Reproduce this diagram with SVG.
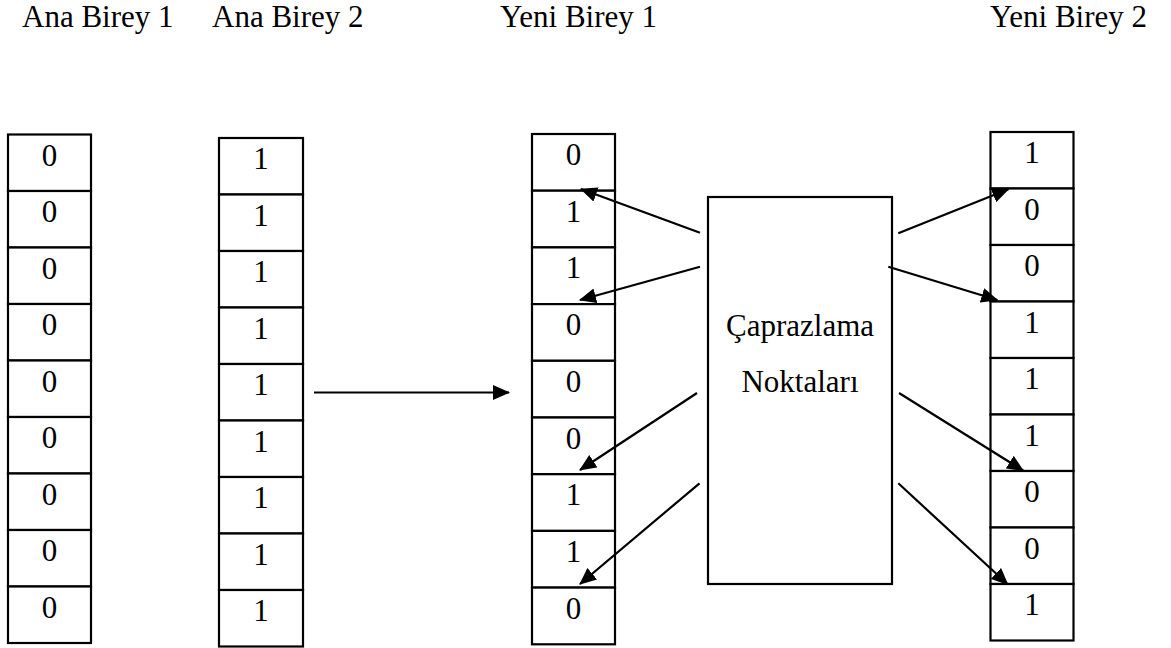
<svg xmlns="http://www.w3.org/2000/svg" width="1171" height="648" viewBox="0 0 1171 648">
  <style>
    text { font-family: "Liberation Serif", "Times New Roman", serif; font-size: 31px; fill: #000; }
    .cell { fill: #fff; stroke: #000; stroke-width: 2.2; }
    .bit { text-anchor: middle; }
    .box { fill: #fff; stroke: #000; stroke-width: 2.2; }
    .conn { fill: none; stroke: #000; stroke-width: 2.2; marker-end: url(#arrow); }
  </style>
  <defs>
    <marker id="arrow" markerUnits="userSpaceOnUse" markerWidth="17" markerHeight="15" refX="16" refY="7.5" orient="auto">
      <path d="M0,0 L17,7.5 L0,15 z" fill="#000"/>
    </marker>
  </defs>
  <rect width="1171" height="648" fill="#fff"/>

  <!-- column headings -->
  <g id="headings">
    <text x="22" y="27">Ana Birey 1</text>
    <text x="212" y="27">Ana Birey 2</text>
    <text x="500" y="27">Yeni Birey 1</text>
    <text x="990" y="27">Yeni Birey 2</text>
  </g>

  <!-- parent 1: all zeros -->
  <g id="ana-birey-1">
    <rect class="cell" x="8" y="134.5" width="83" height="56.5"/>
    <rect class="cell" x="8" y="191" width="83" height="56.5"/>
    <rect class="cell" x="8" y="247.5" width="83" height="56.5"/>
    <rect class="cell" x="8" y="304" width="83" height="56.5"/>
    <rect class="cell" x="8" y="360.5" width="83" height="56.5"/>
    <rect class="cell" x="8" y="417" width="83" height="56.5"/>
    <rect class="cell" x="8" y="473.5" width="83" height="56.5"/>
    <rect class="cell" x="8" y="530" width="83" height="56.5"/>
    <rect class="cell" x="8" y="586.5" width="83" height="56.5"/>
    <text class="bit" x="49.5" y="165.5">0</text>
    <text class="bit" x="49.5" y="222">0</text>
    <text class="bit" x="49.5" y="278.5">0</text>
    <text class="bit" x="49.5" y="335">0</text>
    <text class="bit" x="49.5" y="391.5">0</text>
    <text class="bit" x="49.5" y="448">0</text>
    <text class="bit" x="49.5" y="504.5">0</text>
    <text class="bit" x="49.5" y="561">0</text>
    <text class="bit" x="49.5" y="617.5">0</text>
  </g>

  <!-- parent 2: all ones -->
  <g id="ana-birey-2">
    <rect class="cell" x="219" y="138" width="84" height="56.5"/>
    <rect class="cell" x="219" y="194.5" width="84" height="56.5"/>
    <rect class="cell" x="219" y="251" width="84" height="56.5"/>
    <rect class="cell" x="219" y="307.5" width="84" height="56.5"/>
    <rect class="cell" x="219" y="364" width="84" height="56.5"/>
    <rect class="cell" x="219" y="420.5" width="84" height="56.5"/>
    <rect class="cell" x="219" y="477" width="84" height="56.5"/>
    <rect class="cell" x="219" y="533.5" width="84" height="56.5"/>
    <rect class="cell" x="219" y="590" width="84" height="56.5"/>
    <text class="bit" x="261" y="169">1</text>
    <text class="bit" x="261" y="225.5">1</text>
    <text class="bit" x="261" y="282">1</text>
    <text class="bit" x="261" y="338.5">1</text>
    <text class="bit" x="261" y="395">1</text>
    <text class="bit" x="261" y="451.5">1</text>
    <text class="bit" x="261" y="508">1</text>
    <text class="bit" x="261" y="564.5">1</text>
    <text class="bit" x="261" y="621">1</text>
  </g>

  <!-- offspring 1 -->
  <g id="yeni-birey-1">
    <rect class="cell" x="532" y="134" width="83" height="56.7"/>
    <rect class="cell" x="532" y="190.7" width="83" height="56.7"/>
    <rect class="cell" x="532" y="247.4" width="83" height="56.7"/>
    <rect class="cell" x="532" y="304.1" width="83" height="56.7"/>
    <rect class="cell" x="532" y="360.8" width="83" height="56.7"/>
    <rect class="cell" x="532" y="417.5" width="83" height="56.7"/>
    <rect class="cell" x="532" y="474.2" width="83" height="56.7"/>
    <rect class="cell" x="532" y="530.9" width="83" height="56.7"/>
    <rect class="cell" x="532" y="587.6" width="83" height="56.7"/>
    <text class="bit" x="573.5" y="165">0</text>
    <text class="bit" x="573.5" y="221.7">1</text>
    <text class="bit" x="573.5" y="278.4">1</text>
    <text class="bit" x="573.5" y="335.1">0</text>
    <text class="bit" x="573.5" y="391.8">0</text>
    <text class="bit" x="573.5" y="448.5">0</text>
    <text class="bit" x="573.5" y="505.2">1</text>
    <text class="bit" x="573.5" y="561.9">1</text>
    <text class="bit" x="573.5" y="618.6">0</text>
  </g>

  <!-- offspring 2 -->
  <g id="yeni-birey-2">
    <rect class="cell" x="990.5" y="132" width="83" height="56.5"/>
    <rect class="cell" x="990.5" y="188.5" width="83" height="56.5"/>
    <rect class="cell" x="990.5" y="245" width="83" height="56.5"/>
    <rect class="cell" x="990.5" y="301.5" width="83" height="56.5"/>
    <rect class="cell" x="990.5" y="358" width="83" height="56.5"/>
    <rect class="cell" x="990.5" y="414.5" width="83" height="56.5"/>
    <rect class="cell" x="990.5" y="471" width="83" height="56.5"/>
    <rect class="cell" x="990.5" y="527.5" width="83" height="56.5"/>
    <rect class="cell" x="990.5" y="584" width="83" height="56.5"/>
    <text class="bit" x="1032" y="163">1</text>
    <text class="bit" x="1032" y="219.5">0</text>
    <text class="bit" x="1032" y="276">0</text>
    <text class="bit" x="1032" y="332.5">1</text>
    <text class="bit" x="1032" y="389">1</text>
    <text class="bit" x="1032" y="445.5">1</text>
    <text class="bit" x="1032" y="502">0</text>
    <text class="bit" x="1032" y="558.5">0</text>
    <text class="bit" x="1032" y="615">1</text>
  </g>

  <!-- crossover points box -->
  <g id="caprazlama-noktalari">
    <rect class="box" x="708" y="197" width="184" height="387"/>
    <text class="bit" x="800" y="336">Çaprazlama</text>
    <text class="bit" x="800" y="392">Noktaları</text>
  </g>

  <!-- connectors -->
  <g id="connectors">
    <line class="conn" x1="314" y1="392.5" x2="509" y2="392.5"/>
    <line class="conn" x1="700" y1="232.7" x2="581" y2="189"/>
    <line class="conn" x1="700" y1="266.7" x2="580" y2="300"/>
    <line class="conn" x1="697" y1="393" x2="580" y2="470"/>
    <line class="conn" x1="699.5" y1="483.3" x2="580" y2="584"/>
    <line class="conn" x1="898.3" y1="233.3" x2="1008.3" y2="189.3"/>
    <line class="conn" x1="888.3" y1="266.7" x2="997.3" y2="300"/>
    <line class="conn" x1="899" y1="393" x2="1023.3" y2="470.7"/>
    <line class="conn" x1="898.3" y1="483.3" x2="1007.7" y2="584.3"/>
  </g>
</svg>
